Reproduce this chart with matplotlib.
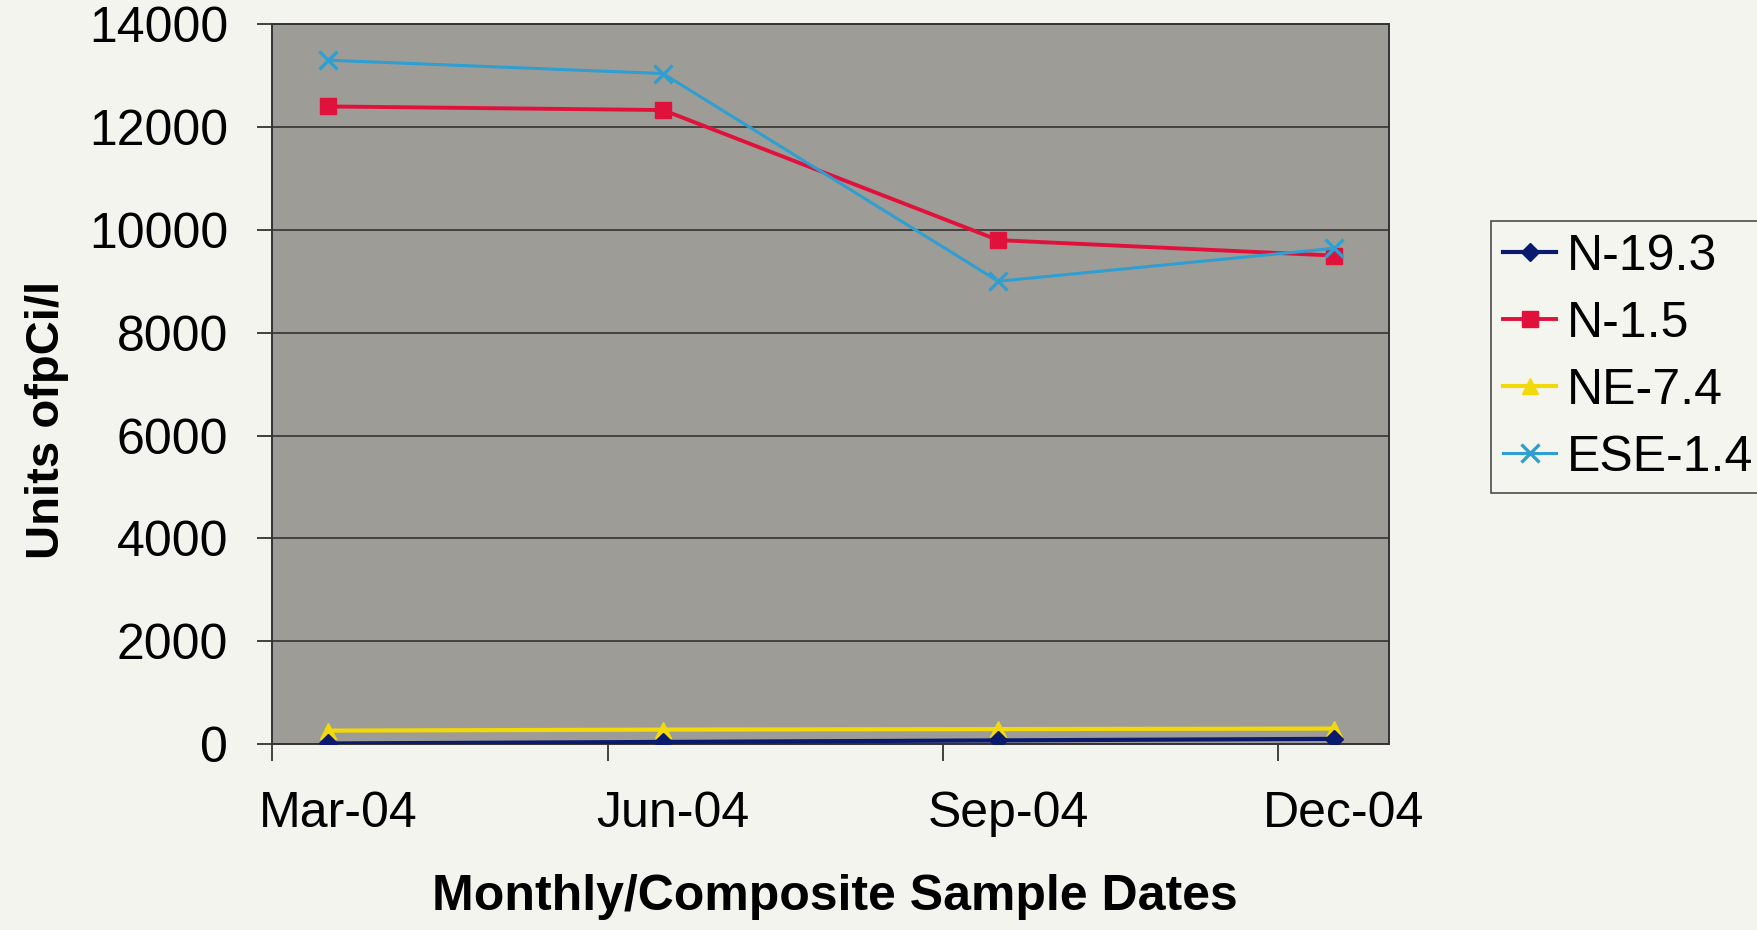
import matplotlib
matplotlib.use("Agg")
import matplotlib.pyplot as plt
from matplotlib.ticker import FixedLocator, NullFormatter

categories = ["Mar-04", "Jun-04", "Sep-04", "Dec-04"]
n19_3 = [10, 40, 70, 100]
n1_5 = [12400, 12330, 9800, 9500]
ne7_4 = [260, 280, 290, 300]
ese1_4 = [13300, 13040, 9000, 9640]
yticks = [0, 2000, 4000, 6000, 8000, 10000, 12000, 14000]

plt.rcParams['font.family'] = ['Liberation Sans', 'DejaVu Sans']

fig = plt.figure(figsize=(17.58, 9.30), dpi=100)
fig.patch.set_facecolor('#f4f4ee')
ax = fig.add_axes([0.155, 0.200, 0.635, 0.774])
ax.set_facecolor('#9e9c96')

x = list(range(len(categories)))
ax.plot(x, n19_3, color='#0a1a6e', lw=3.0, marker='D', ms=9, label='N-19.3', zorder=4)
ax.plot(x, n1_5, color='#e0123c', lw=2.8, marker='s', ms=12, label='N-1.5', zorder=3)
ax.plot(x, ne7_4, color='#f2d90a', lw=3.0, marker='^', ms=12, label='NE-7.4', zorder=3)
ax.plot(x, ese1_4, color='#2f9fd2', lw=2.2, marker='x', ms=13, mew=2.4, label='ESE-1.4', zorder=4)

ax.set_xlim(-0.165, 3.165)
ax.set_ylim(0, 14000)
ax.set_yticks(yticks)
ax.set_yticklabels([str(v) for v in yticks])
ax.yaxis.grid(True, color='#2a2a2a', lw=1.1)
ax.set_axisbelow(True)

# tick marks between points, labels under points
ax.xaxis.set_major_locator(FixedLocator([i - 0.165 for i in x]))
ax.xaxis.set_major_formatter(NullFormatter())
ax.xaxis.set_minor_locator(FixedLocator([i + 0.03 for i in x]))
ax.set_xticklabels(categories, minor=True)
ax.tick_params(axis='x', which='major', direction='out', length=12, width=1.2, color='#222222')
ax.tick_params(axis='x', which='minor', length=0, pad=34, labelsize=36)
ax.tick_params(axis='y', direction='out', length=11, width=1.2, color='#222222', labelsize=36, pad=21)

for s in ax.spines.values():
    s.set_color('#333333')
    s.set_linewidth(1.4)

ax.set_xlabel('Monthly/Composite Sample Dates', fontsize=36, fontweight='bold', va='center')
ax.xaxis.set_label_coords(0.475, 0.036, transform=fig.transFigure)
ax.set_ylabel('Units ofpCi/l', fontsize=34, fontweight='bold', va='center')
ax.yaxis.set_label_coords(0.027, 0.548, transform=fig.transFigure)

leg = ax.legend(loc='upper left', bbox_to_anchor=(0.848, 0.762), bbox_transform=fig.transFigure,
                fontsize=36, frameon=True, fancybox=False, handlelength=1.05, handletextpad=0.22,
                labelspacing=0.42, borderpad=0.25, borderaxespad=0)
leg.get_frame().set_edgecolor('#222222')
leg.get_frame().set_facecolor('#f6f6f0')
leg.get_frame().set_linewidth(1.2)

fig.savefig('out.png', dpi=100, facecolor=fig.get_facecolor())
